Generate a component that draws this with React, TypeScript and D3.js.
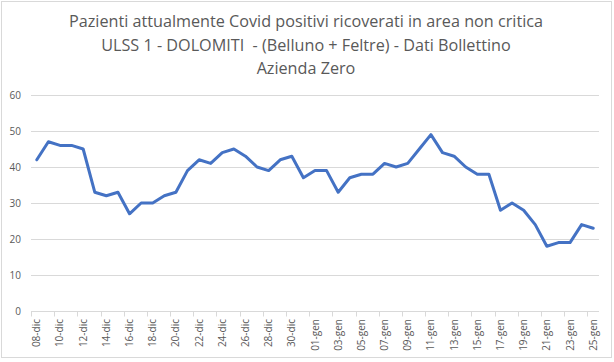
import React, { useEffect, useRef } from 'react';
import * as d3 from 'd3';

const dates: string[] = [
  '08-dic', '09-dic', '10-dic', '11-dic', '12-dic', '13-dic', '14-dic', '15-dic', '16-dic', '17-dic',
  '18-dic', '19-dic', '20-dic', '21-dic', '22-dic', '23-dic', '24-dic', '25-dic', '26-dic', '27-dic',
  '28-dic', '29-dic', '30-dic', '31-dic',
  '01-gen', '02-gen', '03-gen', '04-gen', '05-gen', '06-gen', '07-gen', '08-gen', '09-gen', '10-gen',
  '11-gen', '12-gen', '13-gen', '14-gen', '15-gen', '16-gen', '17-gen', '18-gen', '19-gen', '20-gen',
  '21-gen', '22-gen', '23-gen', '24-gen', '25-gen',
];

const ricoverati: number[] = [
  42, 47, 46, 46, 45, 33, 32, 33, 27, 30,
  30, 32, 33, 39, 42, 41, 44, 45, 43, 40,
  39, 42, 43, 37,
  39, 39, 33, 37, 38, 38, 41, 40, 41, 45,
  49, 44, 43, 40, 38, 38, 28, 30, 28, 24,
  18, 19, 19, 24, 23,
];

const yTicks: number[] = [0, 10, 20, 30, 40, 50, 60];

const titleLines: string[] = [
  'Pazienti attualmente Covid positivi ricoverati in area non critica',
  'ULSS 1 - DOLOMITI  - (Belluno + Feltre) - Dati Bollettino',
  'Azienda Zero',
];

const App = () => {
  const svgRef = useRef<SVGSVGElement>(null);

  useEffect(() => {
    const width = 614;
    const height = 362;
    const margin = { top: 95, right: 15, bottom: 51, left: 31 };
    const textColor = '#595959';
    const font = 'Open Sans, Liberation Sans, sans-serif';

    const svg = d3.select(svgRef.current);
    svg.selectAll('*').remove();
    svg.attr('width', width).attr('height', height);

    // chart area border
    svg.append('rect')
      .attr('x', 1.5).attr('y', 1.5)
      .attr('width', 610).attr('height', 356)
      .attr('fill', '#fff')
      .attr('stroke', '#d9d9d9');

    const x = d3.scaleBand<string>()
      .domain(dates)
      .range([margin.left, width - margin.right])
      .padding(0);

    const y = d3.scaleLinear()
      .domain([0, 60])
      .range([height - margin.bottom, margin.top]);

    // gridlines
    svg.append('g')
      .selectAll('line')
      .data(yTicks.filter((t) => t > 0))
      .enter()
      .append('line')
      .attr('x1', margin.left)
      .attr('x2', width - margin.right)
      .attr('y1', (d) => Math.round(y(d)) + 0.5)
      .attr('y2', (d) => Math.round(y(d)) + 0.5)
      .attr('stroke', '#d9d9d9');

    // y labels
    svg.append('g')
      .selectAll('text')
      .data(yTicks)
      .enter()
      .append('text')
      .attr('x', 21)
      .attr('y', (d) => y(d))
      .attr('dy', '0.35em')
      .attr('text-anchor', 'end')
      .style('font-family', font)
      .style('font-size', '10px')
      .attr('fill', textColor)
      .text((d) => d);

    // x axis line + ticks
    const axisY = Math.round(y(0)) + 0.5;
    svg.append('line')
      .attr('x1', margin.left)
      .attr('x2', width - margin.right)
      .attr('y1', axisY)
      .attr('y2', axisY)
      .attr('stroke', '#d9d9d9');

    const tickDates = dates.filter((_, i) => i % 2 === 0);
    svg.append('g')
      .selectAll('line')
      .data(tickDates)
      .enter()
      .append('line')
      .attr('x1', (d) => Math.round(x(d)!) + 0.5)
      .attr('x2', (d) => Math.round(x(d)!) + 0.5)
      .attr('y1', axisY)
      .attr('y2', axisY + 5)
      .attr('stroke', '#d9d9d9');

    // x labels (rotated)
    svg.append('g')
      .selectAll('text')
      .data(tickDates)
      .enter()
      .append('text')
      .attr('transform', (d) => `translate(${x(d)! + x.bandwidth() / 2},319) rotate(-90)`)
      .attr('dy', '0.35em')
      .attr('text-anchor', 'end')
      .style('font-family', font)
      .style('font-size', '10px')
      .attr('fill', textColor)
      .text((d) => d);

    // line
    const line = d3.line<number>()
      .x((_, i) => x(dates[i])! + x.bandwidth() / 2)
      .y((d) => y(d));

    svg.append('path')
      .datum(ricoverati)
      .attr('d', line)
      .attr('fill', 'none')
      .attr('stroke', '#4472c4')
      .attr('stroke-width', 3)
      .attr('stroke-linejoin', 'round')
      .attr('stroke-linecap', 'round');

    // title
    svg.append('g')
      .selectAll('text')
      .data(titleLines)
      .enter()
      .append('text')
      .attr('x', 306)
      .attr('y', (_, i) => 27 + i * 23.5)
      .attr('text-anchor', 'middle')
      .style('font-family', font)
      .style('font-size', '16.2px')
      .style('white-space', 'pre')
      .attr('fill', textColor)
      .text((d) => d);
  }, []);

  return (
    <svg ref={svgRef} style={{ position: 'absolute', left: 0, top: 0 }} />
  );
};

export default App;
